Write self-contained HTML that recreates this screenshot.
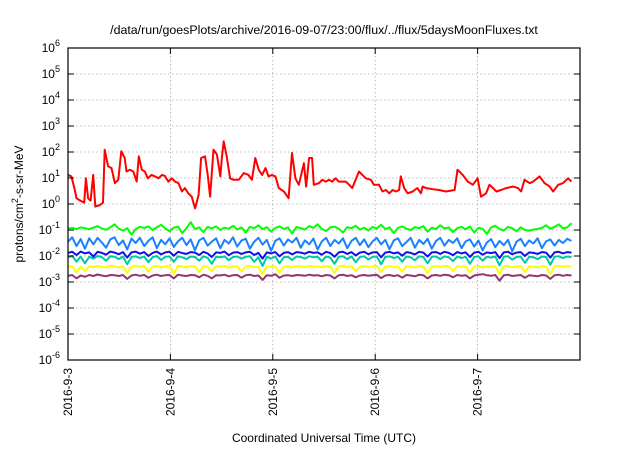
<!DOCTYPE html>
<html><head><meta charset="utf-8"><style>
body{margin:0;background:#fff;width:640px;height:448px;overflow:hidden}
svg{font-family:"Liberation Sans",sans-serif}
</style></head><body>
<svg id="chart" width="640" height="448" viewBox="0 0 640 448" xmlns="http://www.w3.org/2000/svg">
<text x="324" y="34" font-size="12.4" text-anchor="middle">/data/run/goesPlots/archive/2016-09-07/23:00/flux/../flux/5daysMoonFluxes.txt</text>
<text transform="translate(23,204) rotate(-90)" font-size="12" text-anchor="middle">protons/cm<tspan dy="-5" font-size="9">2</tspan><tspan dy="5">-s-sr-MeV</tspan></text>
<text x="324" y="442" font-size="12" text-anchor="middle">Coordinated Universal Time (UTC)</text>
<g id="grid"></g><g id="series"></g><g id="axes"></g>
</svg>
<script>
const yExps=[-6,-5,-4,-3,-2,-1,0,1,2,3,4,5,6];
const xTickLabels=["2016-9-3","2016-9-4","2016-9-5","2016-9-6","2016-9-7"];
const redHours=[0,0.8,1.6,2.0,2.7,3.8,4.2,4.7,5.3,5.9,6.4,7.5,8.2,8.6,9.4,10.2,11.0,11.8,12.5,13.3,13.7,14.5,15.3,16.1,16.6,17.3,18.0,18.7,19.6,20.4,21.2,22.0,22.7,23.5,24.3,25.1,25.9,26.7,27.4,28.2,29.0,29.8,30.6,31.2,32.1,32.8,33.3,34.1,34.9,35.7,36.1,36.5,37.2,38.0,38.8,40.0,41.2,42.3,43.1,43.9,44.7,45.5,46.3,47.0,47.8,48.6,49.4,50.6,51.7,52.5,53.3,54.1,55.3,55.8,56.5,57.2,57.6,58.8,59.6,60.4,61.2,61.9,62.7,63.5,64.3,65.1,65.9,66.6,67.4,68.2,69.0,69.8,71.0,71.7,72.9,73.7,74.5,75.3,76.1,76.8,77.6,78.0,78.8,79.6,80.8,81.9,82.7,83.1,83.9,85.5,87.0,88.6,90.6,91.3,92.5,93.7,94.9,96.0,96.8,98.0,98.8,99.6,100.4,101.5,102.7,104.3,105.5,106.2,107.0,108.2,109.0,110.5,111.7,112.9,113.7,114.9,116.0,117.2,118.0];
const redLog=[1.12,1.06,0.54,0.22,0.15,0.05,0.99,0.22,0.13,1.12,-0.10,-0.04,0.05,2.09,1.45,1.38,0.80,0.93,2.03,1.77,1.25,1.32,1.25,0.86,1.83,1.32,1.25,0.99,1.12,1.06,0.99,1.12,1.08,0.86,0.99,0.86,0.80,0.48,0.61,0.41,0.28,-0.17,0.35,1.77,1.83,1.06,0.28,2.09,1.90,1.06,1.83,2.41,1.83,0.99,0.93,0.93,1.19,1.12,0.93,1.77,1.32,1.12,1.38,1.06,1.12,1.06,0.61,0.48,0.22,1.96,0.99,0.74,1.57,0.67,1.77,1.77,0.74,0.80,0.93,0.86,0.93,0.86,0.99,0.86,0.86,0.86,0.74,0.61,0.93,1.25,1.12,0.99,0.93,0.74,0.74,0.48,0.54,0.41,0.54,0.48,0.54,1.06,0.61,0.41,0.48,0.61,0.41,0.67,0.61,0.57,0.54,0.48,0.54,1.32,1.12,0.86,0.74,0.99,0.28,0.41,0.74,0.61,0.48,0.54,0.61,0.67,0.61,0.48,0.93,0.80,0.86,1.06,0.80,0.67,0.48,0.74,0.80,0.99,0.86];
const greenLog=[-0.95,-0.92,-0.96,-0.90,-0.93,-0.97,-0.91,-0.85,-0.94,-0.99,-0.90,-0.78,-0.95,-1.02,-0.93,-1.18,-0.96,-0.88,-0.92,-0.86,-1.00,-0.90,-0.80,-0.94,-1.05,-0.91,-0.87,-1.12,-0.93,-0.70,-0.96,-0.90,-1.08,-0.88,-0.94,-0.86,-1.00,-0.91,-0.95,-0.84,-0.98,-0.90,-1.10,-0.88,-0.93,-0.82,-0.97,-0.89,-1.06,-0.92,-0.86,-0.96,-0.90,-1.14,-0.88,-0.93,-0.98,-0.85,-0.92,-0.78,-0.96,-1.04,-0.90,-0.87,-0.95,-1.10,-0.89,-0.93,-0.84,-0.98,-0.91,-1.02,-0.88,-0.94,-0.80,-0.96,-0.90,-1.12,-0.92,-0.86,-0.95,-1.00,-0.89,-0.93,-0.85,-1.06,-0.91,-0.96,-0.82,-0.94,-0.90,-1.08,-0.93,-0.88,-0.97,-0.86,-1.10,-0.92,-0.95,-1.15,-0.90,-0.84,-0.96,-1.02,-0.88,-0.93,-1.05,-0.90,-1.00,-1.02,-0.98,-0.96,-0.92,-0.82,-0.95,-0.88,-0.78,-0.94,-0.90,-0.74];
const lightBlueLog=[-1.45,-1.28,-1.62,-1.35,-1.72,-1.32,-1.55,-1.30,-1.48,-1.68,-1.36,-1.28,-1.58,-1.40,-1.75,-1.33,-1.50,-1.30,-1.62,-1.42,-1.28,-1.70,-1.38,-1.55,-1.32,-1.65,-1.44,-1.30,-1.58,-1.36,-1.78,-1.40,-1.30,-1.60,-1.45,-1.32,-1.70,-1.38,-1.52,-1.28,-1.64,-1.40,-1.34,-1.72,-1.45,-1.30,-1.56,-1.38,-1.80,-1.42,-1.32,-1.60,-1.36,-1.48,-1.30,-1.68,-1.40,-1.55,-1.33,-1.75,-1.44,-1.30,-1.62,-1.38,-1.52,-1.32,-1.70,-1.42,-1.30,-1.58,-1.36,-1.66,-1.44,-1.30,-1.55,-1.38,-1.74,-1.40,-1.32,-1.62,-1.46,-1.30,-1.68,-1.38,-1.54,-1.34,-1.72,-1.42,-1.30,-1.60,-1.38,-1.50,-1.32,-1.70,-1.44,-1.36,-1.64,-1.40,-1.78,-1.48,-1.35,-1.66,-1.42,-1.58,-1.38,-1.82,-1.45,-1.34,-1.62,-1.40,-1.52,-1.32,-1.70,-1.44,-1.36,-1.60,-1.38,-1.50,-1.34,-1.42];
const blueLog=[-1.88,-1.84,-1.96,-1.83,-1.90,-1.86,-2.02,-1.84,-1.88,-1.95,-1.83,-1.87,-1.93,-1.85,-2.06,-1.86,-1.83,-1.91,-1.85,-2.00,-1.88,-1.83,-1.94,-1.86,-1.84,-1.99,-1.84,-1.89,-1.92,-1.85,-1.87,-1.96,-1.84,-1.90,-2.04,-1.86,-1.88,-1.83,-1.97,-1.87,-1.85,-1.92,-1.86,-1.84,-1.96,-1.88,-2.10,-1.86,-1.90,-1.85,-2.01,-1.88,-1.85,-1.94,-1.85,-1.87,-1.91,-1.84,-1.88,-1.86,-1.95,-1.84,-1.89,-2.03,-1.86,-1.84,-1.92,-1.85,-1.98,-1.87,-1.84,-1.93,-1.86,-1.85,-2.05,-1.87,-1.84,-1.90,-1.86,-1.99,-1.85,-1.88,-1.94,-1.84,-1.87,-2.02,-1.86,-1.85,-1.92,-1.84,-1.88,-1.97,-1.85,-1.90,-1.86,-2.04,-1.87,-1.84,-1.95,-1.86,-1.89,-1.85,-2.08,-1.86,-1.84,-1.93,-1.87,-1.85,-2.00,-1.86,-1.88,-1.92,-1.85,-1.87,-2.06,-1.86,-1.84,-1.90,-1.85,-1.87];
const tealLog=[-2.05,-2.00,-2.22,-2.02,-2.28,-2.03,-2.10,-2.00,-2.04,-2.18,-2.01,-2.03,-2.12,-2.02,-2.32,-2.04,-2.01,-2.08,-2.02,-2.24,-2.05,-2.00,-2.15,-2.03,-2.02,-2.22,-2.01,-2.05,-2.12,-2.02,-2.04,-2.18,-2.01,-2.07,-2.30,-2.03,-2.05,-2.01,-2.16,-2.04,-2.02,-2.10,-2.03,-2.01,-2.22,-2.05,-2.38,-2.03,-2.10,-2.02,-2.28,-2.05,-2.03,-2.15,-2.02,-2.04,-2.10,-2.01,-2.05,-2.03,-2.20,-2.02,-2.06,-2.30,-2.03,-2.01,-2.12,-2.02,-2.24,-2.04,-2.01,-2.14,-2.03,-2.02,-2.32,-2.04,-2.01,-2.08,-2.03,-2.22,-2.02,-2.05,-2.16,-2.01,-2.04,-2.28,-2.03,-2.02,-2.12,-2.01,-2.05,-2.20,-2.02,-2.08,-2.03,-2.30,-2.04,-2.01,-2.18,-2.03,-2.06,-2.02,-2.36,-2.03,-2.01,-2.14,-2.04,-2.02,-2.26,-2.03,-2.05,-2.12,-2.02,-2.04,-2.34,-2.03,-2.01,-2.08,-2.02,-2.04];
const yellowLog=[-2.42,-2.40,-2.64,-2.41,-2.58,-2.40,-2.43,-2.39,-2.41,-2.45,-2.38,-2.40,-2.44,-2.39,-2.66,-2.41,-2.38,-2.42,-2.39,-2.60,-2.41,-2.38,-2.44,-2.40,-2.39,-2.68,-2.38,-2.41,-2.43,-2.39,-2.40,-2.62,-2.38,-2.42,-2.58,-2.40,-2.41,-2.38,-2.44,-2.40,-2.39,-2.60,-2.40,-2.38,-2.43,-2.41,-2.70,-2.40,-2.42,-2.39,-2.64,-2.41,-2.40,-2.44,-2.39,-2.40,-2.42,-2.38,-2.41,-2.40,-2.44,-2.39,-2.41,-2.66,-2.40,-2.38,-2.43,-2.40,-2.58,-2.41,-2.39,-2.42,-2.40,-2.38,-2.62,-2.41,-2.39,-2.43,-2.40,-2.60,-2.39,-2.41,-2.44,-2.38,-2.40,-2.66,-2.41,-2.39,-2.42,-2.38,-2.40,-2.58,-2.39,-2.42,-2.40,-2.64,-2.41,-2.38,-2.44,-2.40,-2.42,-2.39,-2.70,-2.40,-2.38,-2.43,-2.41,-2.39,-2.62,-2.40,-2.42,-2.44,-2.39,-2.41,-2.68,-2.40,-2.38,-2.42,-2.39,-2.41];
const purpleLog=[-2.76,-2.73,-2.86,-2.75,-2.80,-2.73,-2.77,-2.71,-2.75,-2.78,-2.73,-2.74,-2.77,-2.73,-2.88,-2.75,-2.72,-2.76,-2.73,-2.84,-2.75,-2.72,-2.77,-2.74,-2.73,-2.86,-2.72,-2.75,-2.77,-2.73,-2.74,-2.82,-2.72,-2.76,-2.86,-2.74,-2.75,-2.72,-2.78,-2.74,-2.73,-2.83,-2.74,-2.72,-2.77,-2.75,-2.92,-2.74,-2.76,-2.70,-2.84,-2.75,-2.74,-2.77,-2.73,-2.74,-2.76,-2.72,-2.75,-2.74,-2.78,-2.73,-2.75,-2.86,-2.74,-2.72,-2.77,-2.74,-2.82,-2.75,-2.73,-2.76,-2.74,-2.72,-2.85,-2.75,-2.73,-2.77,-2.74,-2.83,-2.73,-2.75,-2.78,-2.72,-2.74,-2.86,-2.75,-2.73,-2.76,-2.72,-2.74,-2.82,-2.73,-2.76,-2.74,-2.86,-2.75,-2.72,-2.70,-2.74,-2.76,-2.73,-2.95,-2.74,-2.72,-2.77,-2.75,-2.73,-2.84,-2.74,-2.76,-2.78,-2.73,-2.75,-2.88,-2.74,-2.72,-2.76,-2.73,-2.75];
const NS="http://www.w3.org/2000/svg";
const L=68,R=580,T=48,B=360,HOURS=120;
const xs=h=>L+(R-L)*h/HOURS;
const ys=e=>B-(B-T)*(e+6)/12;
function mk(tag,attrs,parent){const el=document.createElementNS(NS,tag);for(const k in attrs)el.setAttribute(k,attrs[k]);parent.appendChild(el);return el;}
const grid=document.getElementById('grid'),axes=document.getElementById('axes'),ser=document.getElementById('series');
yExps.forEach(e=>{
  const y=ys(e);
  if(e>-6&&e<6){const g=mk('line',{x1:L,x2:R,y1:y,y2:y,stroke:'#aaa','stroke-width':0.8,'stroke-dasharray':'1.5,2.5'},grid);
  
  }
  const t1=mk('line',{x1:L,x2:L+6,y1:y,y2:y,stroke:'#000'},axes);
  
  
  const t2=mk('line',{x1:R-6,x2:R,y1:y,y2:y,stroke:'#000'},axes);
  
  
  const lb=mk('text',{x:L-8,y:y+4,'font-size':12,'text-anchor':'end'},axes);
  
  
  lb.textContent='10';
  const sp=mk('tspan',{dy:-6,'font-size':9},lb);sp.textContent=String(e);
});
xTickLabels.forEach((s,i)=>{
  const x=xs(i*24);
  if(i>0){const g=mk('line',{x1:x,x2:x,y1:T,y2:B,stroke:'#aaa','stroke-width':0.8,'stroke-dasharray':'1.5,2.5'},grid);
  
  }
  const t1=mk('line',{x1:x,x2:x,y1:B,y2:B-6,stroke:'#000'},axes);
  
  
  const t2=mk('line',{x1:x,x2:x,y1:T,y2:T+6,stroke:'#000'},axes);
  
  
  const lb=mk('text',{transform:`translate(${x+4},368) rotate(-90)`,'font-size':12,'text-anchor':'end'},axes);
  
  
  lb.textContent=s;
});
const frame=mk('rect',{x:L,y:T,width:R-L,height:B-T,fill:'none',stroke:'#000','stroke-width':1.2},axes);


function line(hours,vals,color,name){
  const d=vals.map((v,i)=>(i?'L':'M')+xs(hours[i]).toFixed(1)+','+ys(v).toFixed(1)).join('');
  const p=mk('path',{d:d,fill:'none',stroke:color,'stroke-width':2,'stroke-linejoin':'round'},ser);
  
  
}
const uni=n=>Array.from({length:n},(_,i)=>i*118/(n-1));
line(uni(purpleLog.length),purpleLog,'#94346e','series-purple');
line(uni(yellowLog.length),yellowLog,'#ffff00','series-yellow');
line(uni(tealLog.length),tealLog,'#00c8a0','series-teal');
line(uni(blueLog.length),blueLog,'#1010e8','series-blue');
line(uni(lightBlueLog.length),lightBlueLog,'#1a80ff','series-light-blue');
line(uni(greenLog.length),greenLog,'#00ff00','series-green');
line(redHours,redLog,'#ff0000','series-red');
</script>
</body></html>
